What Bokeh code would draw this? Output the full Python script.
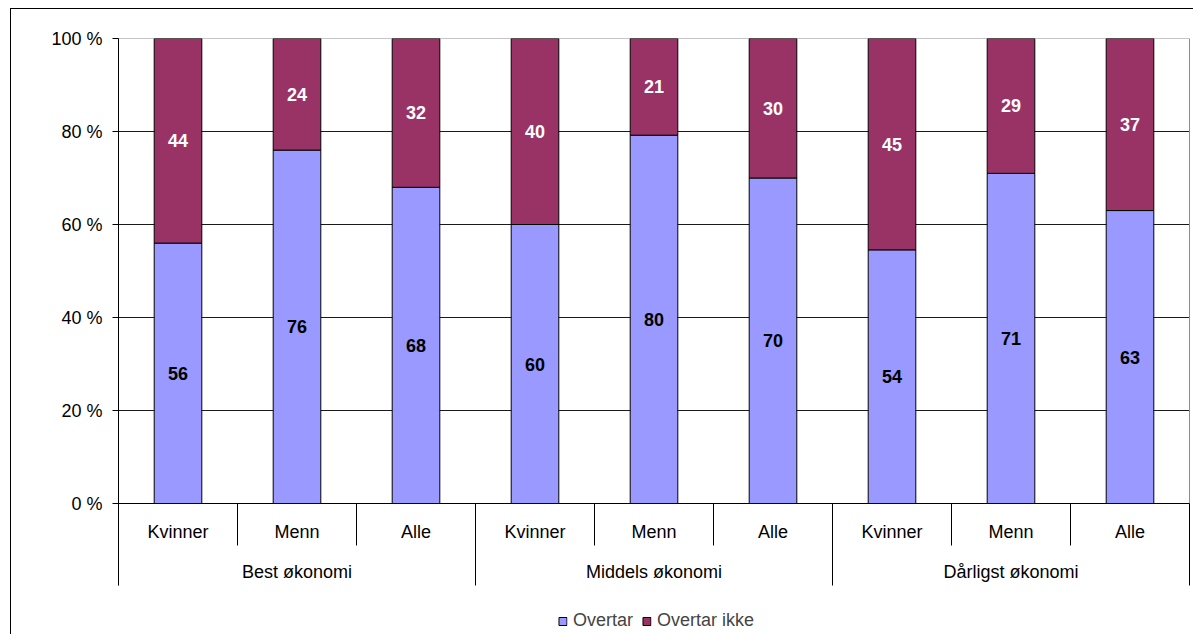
import numpy as np
from bokeh.plotting import figure
from bokeh.models import (Range1d, FixedTicker, ColumnDataSource, Legend,
                          LegendItem, PrintfTickFormatter, InlineStyleSheet)
from bokeh.core.properties import value
from bokeh.embed import file_html
from bokeh.resources import INLINE

# ---- data ----
groups = ["Best økonomi", "Middels økonomi", "Dårligst økonomi"]
subcats = ["Kvinner", "Menn", "Alle"]
overtar = [56, 76, 68, 60, 80, 70, 54, 71, 63]
overtar_ikke = [44, 24, 32, 40, 21, 30, 45, 29, 37]
series_names = ["Overtar", "Overtar ikke"]
y_ticks = [0, 20, 40, 60, 80, 100]

# ---- style / layout ----
FONT = "Liberation Sans"
FS = "18px"
C_OVER = "#9999FF"
C_IKKE = "#993366"
W, H = 1193, 634
B_LEFT, B_TOP, B_RIGHT, B_BOTTOM = 118, 38, 0, 0
PLOT_W = 1071           # px width of the plot area (all categories)
ZERO_PX = 503           # screen y of the 0 % line
AXIS_BAND = 82          # px height of the two-level category axis below 0 %
CAT_SEP = 42            # px length of inner separators
LAB1_OFF, LAB2_OFF = 28, 68

ppu = (ZERO_PX - B_TOP) / 100.0
ymin = -(H - ZERO_PX) / ppu
axis_bottom = -AXIS_BAND / ppu

a = np.array(overtar, dtype=float)
b = np.array(overtar_ikke, dtype=float)
tot = a + b
p_a = 100 * a / tot
p_b = 100 * b / tot
n = len(a)
xs = np.arange(n) + 0.5
frame_w = W - B_LEFT - B_RIGHT
x_end = n * frame_w / PLOT_W

src = ColumnDataSource(dict(
    x=xs, over=p_a, ikke=p_b,
    y_over=p_a / 2, y_ikke=p_a + p_b / 2,
    t_over=[str(v) for v in overtar], t_ikke=[str(v) for v in overtar_ikke],
))

p = figure(width=W, height=H, x_range=Range1d(0, x_end), y_range=Range1d(ymin, 100),
           output_backend="svg", toolbar_location=None, x_axis_location=None,
           min_border_left=B_LEFT, min_border_top=B_TOP,
           min_border_right=B_RIGHT, min_border_bottom=B_BOTTOM)
p.border_fill_color = None
p.background_fill_color = None
p.outline_line_color = None
p.stylesheets = [InlineStyleSheet(css=(
    ":host { box-shadow: inset 10px 0 0 0 white, inset 0 8px 0 0 white, "
    "inset 11px 9px 0 0 black; }"))]

p.xgrid.visible = False
p.ygrid.visible = False

ax = p.yaxis[0]
ax.ticker = FixedTicker(ticks=y_ticks)
ax.formatter = PrintfTickFormatter(format="%d %%")
ax.bounds = (axis_bottom, 100)
ax.axis_line_color = "black"
ax.major_tick_line_color = "black"
ax.major_tick_out = 6
ax.major_tick_in = 0
ax.minor_tick_line_color = None
ax.major_label_text_font = FONT
ax.major_label_text_font_size = FS
ax.major_label_text_color = "black"
ax.major_label_standoff = 10

# gridlines, plot-area border and category-axis line
grid_y = y_ticks[1:-1]
p.segment(x0=[0] * len(grid_y), y0=grid_y, x1=[n] * len(grid_y), y1=grid_y,
          line_color="#1a1a1a", line_width=1)
p.quad(left=0, right=n, bottom=0, top=100, fill_color=None, line_color="#8c8c8c")
p.segment(x0=0, y0=0, x1=n, y1=0, line_color="black", line_width=1)

rs = p.vbar_stack(["over", "ikke"], x="x", width=0.4, color=[C_OVER, C_IKKE],
                  line_color="black", line_width=1, source=src)

common = dict(text_font=value(FONT), text_font_size=FS, text_font_style="bold",
              text_align="center", text_baseline="middle", source=src)
p.text(x="x", y="y_over", text="t_over", text_color="black", **common)
p.text(x="x", y="y_ikke", text="t_ikke", text_color="white", **common)

# two-level category axis
k = len(subcats)
cat_labels = [subcats[i % k] for i in range(n)]
p.text(x=list(xs), y=[0] * n, text=cat_labels, y_offset=LAB1_OFF,
       text_font=value(FONT), text_font_size=FS, text_align="center",
       text_baseline="middle", text_color="black")
gx = [g * k + k / 2 for g in range(len(groups))]
p.text(x=gx, y=[0] * len(groups), text=groups, y_offset=LAB2_OFF,
       text_font=value(FONT), text_font_size=FS, text_align="center",
       text_baseline="middle", text_color="black")

inner = [i for i in range(1, n) if i % k != 0]
outer = [i for i in range(0, n + 1) if i % k == 0]
p.ray(x=inner, y=[0] * len(inner), length=CAT_SEP, length_units="screen",
      angle=-np.pi / 2, line_color="black", line_width=1)
p.ray(x=outer, y=[0] * len(outer), length=AXIS_BAND, length_units="screen",
      angle=-np.pi / 2, line_color="black", line_width=1)

legend = Legend(items=[LegendItem(label=series_names[0], renderers=[rs[0]]),
                       LegendItem(label=series_names[1], renderers=[rs[1]])],
                orientation="horizontal", location="bottom_center",
                glyph_width=10, glyph_height=10, label_standoff=6, spacing=8,
                label_height=20, padding=0, margin=3, border_line_color=None,
                background_fill_alpha=0,
                label_text_font=FONT, label_text_font_size=FS)
p.add_layout(legend)

open("out.html", "w", encoding="utf-8").write(file_html(p, INLINE))
